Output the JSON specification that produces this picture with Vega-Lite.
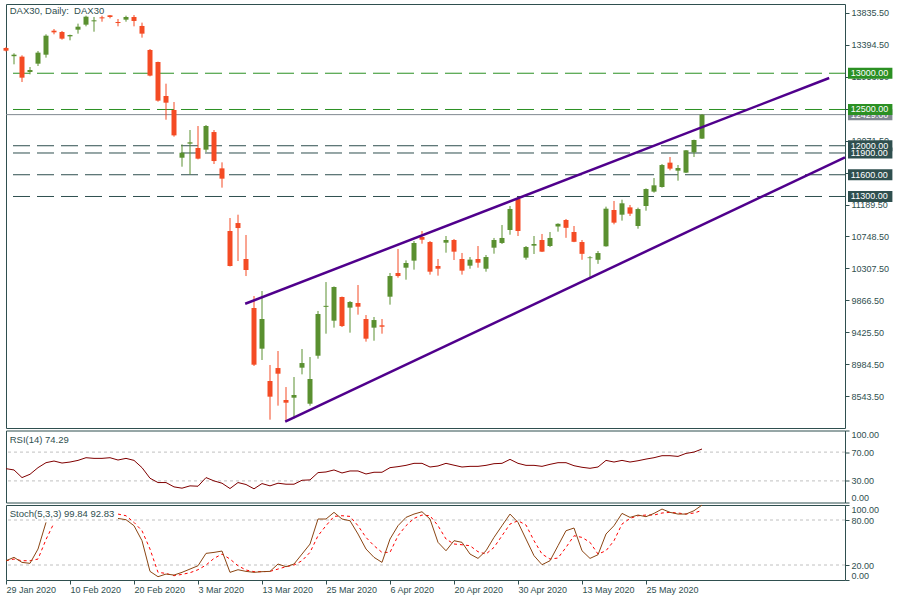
{
  "$schema": "https://vega.github.io/schema/vega-lite/v6.json",
  "padding": {"left": 3, "top": 3, "right": 0, "bottom": 0},
  "background": "white",
  "spacing": 2.5,
  "bounds": "flush",
  "config": {
    "view": {"stroke": "#2F4F4F", "strokeWidth": 1},
    "scale": {"continuousPadding": 0},
    "axis": {"labelFont": "Liberation Sans", "labelFontSize": 9, "labelColor": "#2F4F4F", "tickColor": "#2F4F4F", "tickSize": 4, "domain": false, "grid": false, "labelPadding": 2, "labelOverlap": false, "tickCount": 100},
    "text": {"font": "Liberation Sans"}
  },
  "datasets": {
    "bars": [
      {"t":0,"date":"29 Jan 2020","o":13348,"h":13360,"l":13300,"c":13311,"rsi":47.0,"k":25.7,"d":25.7},
      {"t":1,"date":"30 Jan 2020","o":13235,"h":13275,"l":13123,"c":13256,"rsi":45.2,"k":30.2,"d":27.9},
      {"t":2,"date":"31 Jan 2020","o":13229,"h":13247,"l":12879,"c":12939,"rsi":34.6,"k":23.5,"d":25.7},
      {"t":3,"date":"3 Feb 2020","o":13017,"h":13086,"l":12985,"c":13045,"rsi":39.2,"k":22.2,"d":25.7},
      {"t":4,"date":"4 Feb 2020","o":13132,"h":13307,"l":13100,"c":13284,"rsi":48.4,"k":41.3,"d":27.9},
      {"t":5,"date":"5 Feb 2020","o":13256,"h":13537,"l":13215,"c":13518,"rsi":55.3,"k":76.8,"d":54.0},
      {"t":6,"date":"6 Feb 2020","o":13587,"h":13610,"l":13537,"c":13564,"rsi":57.6,"k":null,"d":76.0},
      {"t":7,"date":"7 Feb 2020","o":13569,"h":13583,"l":13463,"c":13477,"rsi":54.8,"k":null,"d":null},
      {"t":8,"date":"10 Feb 2020","o":13509,"h":13532,"l":13454,"c":13527,"rsi":56.2,"k":null,"d":null},
      {"t":9,"date":"11 Feb 2020","o":13601,"h":13684,"l":13546,"c":13642,"rsi":58.5,"k":null,"d":null},
      {"t":10,"date":"12 Feb 2020","o":13670,"h":13794,"l":13647,"c":13780,"rsi":62.2,"k":null,"d":null},
      {"t":11,"date":"13 Feb 2020","o":13716,"h":13776,"l":13573,"c":13730,"rsi":61.3,"k":null,"d":null},
      {"t":12,"date":"14 Feb 2020","o":13771,"h":13794,"l":13711,"c":13757,"rsi":61.3,"k":null,"d":null},
      {"t":13,"date":"17 Feb 2020","o":13799,"h":13803,"l":13757,"c":13776,"rsi":62.2,"k":null,"d":null},
      {"t":14,"date":"18 Feb 2020","o":13707,"h":13748,"l":13647,"c":13693,"rsi":59.0,"k":82.1,"d":87.9},
      {"t":15,"date":"19 Feb 2020","o":13739,"h":13794,"l":13711,"c":13776,"rsi":61.3,"k":80.4,"d":85.7},
      {"t":16,"date":"20 Feb 2020","o":13776,"h":13803,"l":13647,"c":13721,"rsi":58.5,"k":72.4,"d":76.8},
      {"t":17,"date":"21 Feb 2020","o":13652,"h":13698,"l":13491,"c":13546,"rsi":48.4,"k":52.4,"d":65.7},
      {"t":18,"date":"24 Feb 2020","o":13321,"h":13334,"l":12957,"c":12967,"rsi":33.7,"k":11.5,"d":41.3},
      {"t":19,"date":"25 Feb 2020","o":13155,"h":13160,"l":12608,"c":12622,"rsi":27.7,"k":4.4,"d":10.2},
      {"t":20,"date":"26 Feb 2020","o":12686,"h":12856,"l":12359,"c":12594,"rsi":27.7,"k":7.9,"d":8.8},
      {"t":21,"date":"27 Feb 2020","o":12493,"h":12603,"l":12125,"c":12143,"rsi":21.7,"k":6.6,"d":5.7},
      {"t":22,"date":"28 Feb 2020","o":11835,"h":12019,"l":11711,"c":11904,"rsi":19.9,"k":10.2,"d":7.5},
      {"t":23,"date":"2 Mar 2020","o":12029,"h":12217,"l":11606,"c":12047,"rsi":23.1,"k":14.6,"d":9.7},
      {"t":24,"date":"3 Mar 2020","o":11969,"h":12272,"l":11812,"c":11822,"rsi":22.6,"k":19.0,"d":13.7},
      {"t":25,"date":"4 Mar 2020","o":11946,"h":12286,"l":11914,"c":12272,"rsi":34.6,"k":35.5,"d":19.9},
      {"t":26,"date":"5 Mar 2020","o":12189,"h":12217,"l":11748,"c":11789,"rsi":30.0,"k":36.8,"d":28.8},
      {"t":27,"date":"6 Mar 2020","o":11688,"h":11771,"l":11422,"c":11546,"rsi":26.8,"k":38.6,"d":34.6},
      {"t":28,"date":"9 Mar 2020","o":10824,"h":11003,"l":10335,"c":10341,"rsi":19.4,"k":10.2,"d":27.9},
      {"t":29,"date":"10 Mar 2020","o":10934,"h":11049,"l":10410,"c":10865,"rsi":27.7,"k":13.7,"d":19.0},
      {"t":30,"date":"11 Mar 2020","o":10438,"h":10769,"l":10203,"c":10286,"rsi":25.0,"k":11.5,"d":13.3},
      {"t":31,"date":"12 Mar 2020","o":9762,"h":9927,"l":8962,"c":8980,"rsi":19.0,"k":10.2,"d":11.1},
      {"t":32,"date":"13 Mar 2020","o":9201,"h":9996,"l":9045,"c":9610,"rsi":26.3,"k":11.1,"d":11.1},
      {"t":33,"date":"16 Mar 2020","o":8755,"h":8976,"l":8222,"c":8539,"rsi":23.1,"k":11.5,"d":11.5},
      {"t":34,"date":"17 Mar 2020","o":8934,"h":9169,"l":8415,"c":8856,"rsi":26.8,"k":21.3,"d":14.6},
      {"t":35,"date":"18 Mar 2020","o":8493,"h":8672,"l":8203,"c":8456,"rsi":25.4,"k":17.7,"d":17.7},
      {"t":36,"date":"19 Mar 2020","o":8525,"h":8810,"l":8240,"c":8562,"rsi":25.4,"k":21.3,"d":19.9},
      {"t":37,"date":"20 Mar 2020","o":8939,"h":9196,"l":8847,"c":9003,"rsi":30.9,"k":34.6,"d":25.7},
      {"t":38,"date":"23 Mar 2020","o":8442,"h":9086,"l":8415,"c":8783,"rsi":31.4,"k":47.9,"d":36.8},
      {"t":39,"date":"24 Mar 2020","o":9104,"h":9721,"l":9063,"c":9679,"rsi":41.5,"k":81.3,"d":59.0},
      {"t":40,"date":"25 Mar 2020","o":9778,"h":10120,"l":9408,"c":9792,"rsi":42.4,"k":81.3,"d":72.4},
      {"t":41,"date":"26 Mar 2020","o":9587,"h":10060,"l":9491,"c":10052,"rsi":45.2,"k":90.2,"d":84.8},
      {"t":42,"date":"27 Mar 2020","o":9914,"h":9920,"l":9500,"c":9513,"rsi":41.0,"k":81.3,"d":85.7},
      {"t":43,"date":"30 Mar 2020","o":9767,"h":9858,"l":9422,"c":9845,"rsi":43.8,"k":79.0,"d":84.8},
      {"t":44,"date":"31 Mar 2020","o":9831,"h":10079,"l":9670,"c":9780,"rsi":43.8,"k":61.3,"d":72.4},
      {"t":45,"date":"1 Apr 2020","o":9610,"h":9665,"l":9298,"c":9339,"rsi":39.6,"k":41.3,"d":56.8},
      {"t":46,"date":"2 Apr 2020","o":9491,"h":9638,"l":9311,"c":9596,"rsi":42.0,"k":30.2,"d":45.7},
      {"t":47,"date":"3 Apr 2020","o":9523,"h":9610,"l":9408,"c":9504,"rsi":42.0,"k":23.5,"d":36.8},
      {"t":48,"date":"6 Apr 2020","o":9918,"h":10245,"l":9808,"c":10203,"rsi":48.4,"k":54.6,"d":36.8},
      {"t":49,"date":"7 Apr 2020","o":10245,"h":10576,"l":10180,"c":10203,"rsi":49.8,"k":72.4,"d":59.0},
      {"t":50,"date":"8 Apr 2020","o":10318,"h":10419,"l":10153,"c":10383,"rsi":51.6,"k":83.5,"d":72.4},
      {"t":51,"date":"9 Apr 2020","o":10415,"h":10686,"l":10291,"c":10659,"rsi":54.4,"k":87.9,"d":82.1},
      {"t":52,"date":"14 Apr 2020","o":10741,"h":10824,"l":10649,"c":10704,"rsi":54.4,"k":91.0,"d":86.6},
      {"t":53,"date":"15 Apr 2020","o":10672,"h":10686,"l":10222,"c":10263,"rsi":49.3,"k":81.3,"d":85.7},
      {"t":54,"date":"16 Apr 2020","o":10341,"h":10438,"l":10208,"c":10304,"rsi":50.7,"k":50.2,"d":72.4},
      {"t":55,"date":"17 Apr 2020","o":10663,"h":10755,"l":10525,"c":10700,"rsi":54.4,"k":39.0,"d":54.6},
      {"t":56,"date":"20 Apr 2020","o":10700,"h":10714,"l":10424,"c":10539,"rsi":51.8,"k":52.4,"d":48.0},
      {"t":57,"date":"21 Apr 2020","o":10438,"h":10521,"l":10222,"c":10277,"rsi":49.3,"k":50.2,"d":47.0},
      {"t":58,"date":"22 Apr 2020","o":10346,"h":10465,"l":10304,"c":10429,"rsi":50.2,"k":34.6,"d":45.7},
      {"t":59,"date":"23 Apr 2020","o":10438,"h":10617,"l":10318,"c":10387,"rsi":50.2,"k":28.8,"d":37.7},
      {"t":60,"date":"24 Apr 2020","o":10304,"h":10493,"l":10263,"c":10465,"rsi":51.6,"k":39.0,"d":34.6},
      {"t":61,"date":"27 Apr 2020","o":10594,"h":10728,"l":10511,"c":10700,"rsi":53.9,"k":56.8,"d":43.5},
      {"t":62,"date":"28 Apr 2020","o":10659,"h":10907,"l":10645,"c":10728,"rsi":54.4,"k":72.4,"d":59.0},
      {"t":63,"date":"29 Apr 2020","o":10838,"h":11169,"l":10773,"c":11128,"rsi":59.9,"k":87.9,"d":74.6},
      {"t":64,"date":"30 Apr 2020","o":11265,"h":11293,"l":10755,"c":10824,"rsi":54.4,"k":76.8,"d":79.0},
      {"t":65,"date":"4 May 2020","o":10456,"h":10617,"l":10429,"c":10603,"rsi":51.6,"k":54.6,"d":73.3},
      {"t":66,"date":"5 May 2020","o":10622,"h":10755,"l":10507,"c":10645,"rsi":51.6,"k":32.4,"d":52.4},
      {"t":67,"date":"6 May 2020","o":10700,"h":10783,"l":10534,"c":10539,"rsi":50.2,"k":20.4,"d":34.6},
      {"t":68,"date":"7 May 2020","o":10617,"h":10810,"l":10603,"c":10728,"rsi":53.0,"k":25.7,"d":27.9},
      {"t":69,"date":"8 May 2020","o":10886,"h":10930,"l":10815,"c":10923,"rsi":55.3,"k":45.7,"d":29.3},
      {"t":70,"date":"11 May 2020","o":10976,"h":10990,"l":10730,"c":10868,"rsi":55.3,"k":65.7,"d":43.5},
      {"t":71,"date":"12 May 2020","o":10810,"h":10893,"l":10670,"c":10675,"rsi":51.1,"k":69.3,"d":59.0},
      {"t":72,"date":"13 May 2020","o":10672,"h":10700,"l":10427,"c":10509,"rsi":48.9,"k":39.0,"d":56.8},
      {"t":73,"date":"14 May 2020","o":10450,"h":10477,"l":10175,"c":10460,"rsi":47.5,"k":28.8,"d":50.2},
      {"t":74,"date":"15 May 2020","o":10427,"h":10548,"l":10371,"c":10520,"rsi":49.3,"k":33.7,"d":34.6},
      {"t":75,"date":"18 May 2020","o":10613,"h":11160,"l":10608,"c":11132,"rsi":58.5,"k":61.3,"d":39.0},
      {"t":76,"date":"19 May 2020","o":11114,"h":11238,"l":10916,"c":10939,"rsi":56.2,"k":72.4,"d":52.4},
      {"t":77,"date":"20 May 2020","o":11049,"h":11256,"l":10967,"c":11206,"rsi":58.5,"k":88.8,"d":74.6},
      {"t":78,"date":"21 May 2020","o":11150,"h":11183,"l":11031,"c":11063,"rsi":56.2,"k":83.5,"d":82.1},
      {"t":79,"date":"22 May 2020","o":10893,"h":11146,"l":10856,"c":11127,"rsi":58.0,"k":86.6,"d":85.7},
      {"t":80,"date":"25 May 2020","o":11169,"h":11412,"l":11104,"c":11403,"rsi":60.3,"k":84.4,"d":86.6},
      {"t":81,"date":"26 May 2020","o":11367,"h":11555,"l":11353,"c":11454,"rsi":62.2,"k":88.8,"d":86.6},
      {"t":82,"date":"27 May 2020","o":11431,"h":11748,"l":11422,"c":11734,"rsi":65.0,"k":94.6,"d":89.3},
      {"t":83,"date":"28 May 2020","o":11767,"h":11845,"l":11661,"c":11684,"rsi":65.0,"k":90.2,"d":90.2},
      {"t":84,"date":"29 May 2020","o":11656,"h":11734,"l":11518,"c":11693,"rsi":64.0,"k":87.9,"d":89.3},
      {"t":85,"date":"1 Jun 2020","o":11629,"h":11941,"l":11624,"c":11937,"rsi":68.2,"k":87.9,"d":87.9},
      {"t":86,"date":"2 Jun 2020","o":11909,"h":12084,"l":11845,"c":12079,"rsi":70.0,"k":92.4,"d":89.3},
      {"t":87,"date":"3 Jun 2020","o":12098,"h":12438,"l":12093,"c":12429,"rsi":74.29,"k":99.84,"d":92.83}
    ],
    "levels": [
      {"level":13000,"zone":"resistance"},
      {"level":12500,"zone":"resistance"},
      {"level":11300,"zone":"support"},
      {"level":11600,"zone":"support"},
      {"level":11900,"zone":"support"},
      {"level":12000,"zone":"support"}
    ],
    "channel": [
      {"line":"upper","t":29.9,"v":9821},
      {"line":"upper","t":102.9,"v":12934},
      {"line":"lower","t":34.9,"v":8194},
      {"line":"lower","t":104.875,"v":11838}
    ],
    "rsiLevels": [{"lv":70},{"lv":30}],
    "stochLevels": [{"lv":80},{"lv":20}]
  },
  "vconcat": [
    {
      "width": 839,
      "height": 424,
      "layer": [
        {
          "data": {"name": "levels"},
          "mark": {"type": "rule", "strokeDash": [17, 7], "strokeDashOffset": 1, "strokeWidth": 1},
          "encoding": {
            "y": {"field": "level", "type": "quantitative", "title": null,
                  "scale": {"domain": [8107, 13955], "nice": false, "zero": false, "padding": 0},
                  "axis": {"orient": "right", "values": [8543.5, 8984.5, 9425.5, 9866.5, 10307.5, 10748.5, 11189.5, 11630.5, 12071.5, 12512.5, 12953.5, 13394.5, 13835.5], "tickCount": 100, "format": ".2f", "title": null, "labelOverlap": false}},
            "color": {"field": "zone", "type": "nominal", "scale": {"domain": ["resistance", "support"], "range": ["#2B9023", "#2F4F4F"]}, "legend": null}
          }
        },
        {
          "data": {"name": "bars"},
          "transform": [{"filter": "datum.t == 87"}],
          "mark": {"type": "rule", "color": "#808891", "strokeWidth": 1},
          "encoding": {
            "y": {"field": "c", "type": "quantitative", "title": null, "scale": {"domain": [8107, 13955], "nice": false, "zero": false, "padding": 0}}
          }
        },
        {
          "data": {"name": "bars"},
          "mark": {"type": "rule", "strokeWidth": 1},
          "encoding": {
            "x": {"field": "t", "type": "quantitative", "scale": {"domain": [0, 104.875], "nice": false, "zero": false, "padding": 0}, "axis": null},
            "y": {"field": "l", "type": "quantitative", "title": null, "scale": {"domain": [8107, 13955], "nice": false, "zero": false, "padding": 0}},
            "y2": {"field": "h"},
            "color": {"condition": {"test": "datum.c >= datum.o", "value": "#5A9030"}, "value": "#F44B24"}
          }
        },
        {
          "data": {"name": "bars"},
          "mark": {"type": "bar", "width": 5, "orient": "vertical"},
          "encoding": {
            "x": {"field": "t", "type": "quantitative", "scale": {"domain": [0, 104.875], "nice": false, "zero": false, "padding": 0}, "axis": null},
            "y": {"field": "o", "type": "quantitative", "title": null, "scale": {"domain": [8107, 13955], "nice": false, "zero": false, "padding": 0}},
            "y2": {"field": "c"},
            "color": {"condition": {"test": "datum.c >= datum.o", "value": "#5A9030"}, "value": "#F44B24"}
          }
        },
        {
          "data": {"name": "channel"},
          "mark": {"type": "line", "color": "#50008C", "strokeWidth": 2.5},
          "encoding": {
            "x": {"field": "t", "type": "quantitative", "scale": {"domain": [0, 104.875], "nice": false, "zero": false, "padding": 0}, "axis": null},
            "y": {"field": "v", "type": "quantitative", "title": null, "scale": {"domain": [8107, 13955], "nice": false, "zero": false, "padding": 0}},
            "detail": {"field": "line", "type": "nominal"}
          }
        },
        {
          "data": {"name": "bars"},
          "transform": [{"filter": "datum.t == 87"}],
          "mark": {"type": "bar", "orient": "horizontal", "height": 11, "color": "#808891"},
          "encoding": {
            "x": {"datum": 105.25, "type": "quantitative", "scale": {"domain": [0, 104.875], "nice": false, "zero": false, "padding": 0}, "axis": null},
            "x2": {"datum": 110.8},
            "y": {"field": "c", "type": "quantitative", "title": null, "scale": {"domain": [8107, 13955], "nice": false, "zero": false, "padding": 0}}
          }
        },
        {
          "data": {"name": "bars"},
          "transform": [{"filter": "datum.t == 87"}],
          "mark": {"type": "text", "align": "left", "baseline": "middle", "color": "white", "fontSize": 9},
          "encoding": {
            "x": {"datum": 105.6, "type": "quantitative", "scale": {"domain": [0, 104.875], "nice": false, "zero": false, "padding": 0}, "axis": null},
            "y": {"field": "c", "type": "quantitative", "title": null, "scale": {"domain": [8107, 13955], "nice": false, "zero": false, "padding": 0}},
            "text": {"field": "c", "type": "quantitative", "format": ".2f"}
          }
        },
        {
          "data": {"name": "levels"},
          "mark": {"type": "bar", "orient": "horizontal", "height": 11},
          "encoding": {
            "x": {"datum": 105.25, "type": "quantitative", "scale": {"domain": [0, 104.875], "nice": false, "zero": false, "padding": 0}, "axis": null},
            "x2": {"datum": 110.8},
            "y": {"field": "level", "type": "quantitative", "title": null, "scale": {"domain": [8107, 13955], "nice": false, "zero": false, "padding": 0}},
            "color": {"field": "zone", "type": "nominal", "scale": {"domain": ["resistance", "support"], "range": ["#2B9023", "#2F4F4F"]}, "legend": null}
          }
        },
        {
          "data": {"name": "levels"},
          "mark": {"type": "text", "align": "left", "baseline": "middle", "color": "white", "fontSize": 9},
          "encoding": {
            "x": {"datum": 105.6, "type": "quantitative", "scale": {"domain": [0, 104.875], "nice": false, "zero": false, "padding": 0}, "axis": null},
            "y": {"field": "level", "type": "quantitative", "title": null, "scale": {"domain": [8107, 13955], "nice": false, "zero": false, "padding": 0}},
            "text": {"field": "level", "type": "quantitative", "format": ".2f"}
          }
        },
        {
          "data": {"values": [{}]},
          "mark": {"type": "text", "text": "DAX30, Daily:\u00a0 DAX30", "align": "left", "baseline": "middle", "color": "#2F4F4F", "fontSize": 9.5},
          "encoding": {
            "x": {"datum": 0.46, "type": "quantitative", "scale": {"domain": [0, 104.875], "nice": false, "zero": false, "padding": 0}, "axis": null},
            "y": {"datum": 13858, "type": "quantitative", "title": null, "scale": {"domain": [8107, 13955], "nice": false, "zero": false, "padding": 0}}
          }
        }
      ]
    },
    {
      "width": 839,
      "height": 72,
      "layer": [
        {
          "data": {"name": "rsiLevels"},
          "mark": {"type": "rule", "color": "#C0C0C0", "strokeDash": [3, 3], "strokeWidth": 1},
          "encoding": {
            "y": {"field": "lv", "type": "quantitative", "title": null,
                  "scale": {"domain": [0, 100], "nice": false, "zero": false, "padding": 0},
                  "axis": {"orient": "right", "values": [0, 30, 70, 100], "tickCount": 100, "format": ".2f", "labelFlush": true, "labelOverlap": false, "title": null}}
          }
        },
        {
          "data": {"name": "bars"},
          "mark": {"type": "line", "color": "#800000", "strokeWidth": 1},
          "encoding": {
            "x": {"field": "t", "type": "quantitative", "scale": {"domain": [0, 104.875], "nice": false, "zero": false, "padding": 0}, "axis": null},
            "y": {"field": "rsi", "type": "quantitative", "title": null, "scale": {"domain": [0, 100], "nice": false, "zero": false, "padding": 0}}
          }
        },
        {
          "data": {"values": [{}]},
          "mark": {"type": "text", "text": "RSI(14) 74.29", "align": "left", "baseline": "middle", "color": "#2F4F4F", "fontSize": 9.5},
          "encoding": {
            "x": {"datum": 0.46, "type": "quantitative", "scale": {"domain": [0, 104.875], "nice": false, "zero": false, "padding": 0}, "axis": null},
            "y": {"datum": 86.8, "type": "quantitative", "title": null, "scale": {"domain": [0, 100], "nice": false, "zero": false, "padding": 0}}
          }
        }
      ]
    },
    {
      "width": 839,
      "height": 75,
      "layer": [
        {
          "data": {"name": "stochLevels"},
          "mark": {"type": "rule", "color": "#C0C0C0", "strokeDash": [3, 3], "strokeWidth": 1},
          "encoding": {
            "y": {"field": "lv", "type": "quantitative", "title": null,
                  "scale": {"domain": [0, 100], "nice": false, "zero": false, "padding": 0},
                  "axis": {"orient": "right", "values": [0, 20, 80, 100], "tickCount": 100, "format": ".2f", "labelFlush": true, "labelOverlap": false, "title": null}}
          }
        },
        {
          "data": {"name": "bars"},
          "mark": {"type": "line", "color": "#FF0000", "strokeWidth": 1, "strokeDash": [3, 3], "invalid": "break-paths-show-domains"},
          "encoding": {
            "x": {"field": "t", "type": "quantitative", "scale": {"domain": [0, 104.875], "nice": false, "zero": false, "padding": 0},
                  "axis": {"orient": "bottom", "values": [0, 8, 16, 24, 32, 40, 48, 56, 64, 72, 80], "tickCount": 100, "labelExpr": "['29 Jan 2020','10 Feb 2020','20 Feb 2020','3 Mar 2020','13 Mar 2020','25 Mar 2020','6 Apr 2020','20 Apr 2020','30 Apr 2020','13 May 2020','25 May 2020'][round(datum.value/8)]", "labelAlign": "left", "labelPadding": 1, "labelFlush": false, "labelOverlap": false, "labelBound": false, "title": null}},
            "y": {"field": "d", "type": "quantitative", "title": null, "scale": {"domain": [0, 100], "nice": false, "zero": false, "padding": 0}}
          }
        },
        {
          "data": {"name": "bars"},
          "mark": {"type": "line", "color": "#8B4513", "strokeWidth": 1, "invalid": "break-paths-show-domains"},
          "encoding": {
            "x": {"field": "t", "type": "quantitative", "title": null, "scale": {"domain": [0, 104.875], "nice": false, "zero": false, "padding": 0}},
            "y": {"field": "k", "type": "quantitative", "title": null, "scale": {"domain": [0, 100], "nice": false, "zero": false, "padding": 0}}
          }
        },
        {
          "data": {"values": [{}]},
          "mark": {"type": "text", "text": "Stoch(5,3,3) 99.84 92.83", "align": "left", "baseline": "middle", "color": "#2F4F4F", "fontSize": 9.5},
          "encoding": {
            "x": {"datum": 0.46, "type": "quantitative", "title": null, "scale": {"domain": [0, 104.875], "nice": false, "zero": false, "padding": 0}},
            "y": {"datum": 87.6, "type": "quantitative", "title": null, "scale": {"domain": [0, 100], "nice": false, "zero": false, "padding": 0}}
          }
        }
      ]
    }
  ]
}
